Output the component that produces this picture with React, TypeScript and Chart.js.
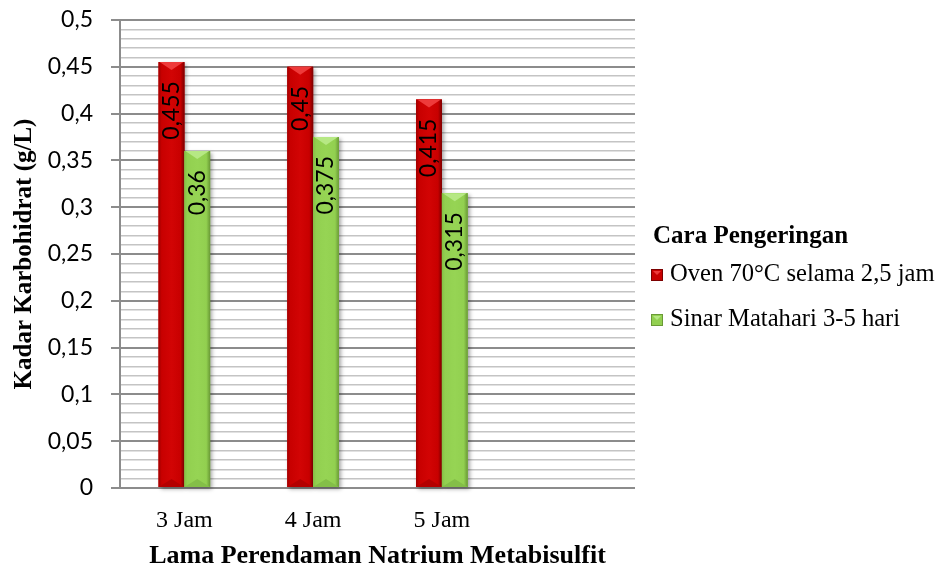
import React, { useEffect, useRef } from 'react';
import { Chart, registerables } from 'chart.js';

Chart.register(...registerables);

// ---- data ----
const categories = ['3 Jam', '4 Jam', '5 Jam', ''];
const seriesNames = ['Oven 70°C selama 2,5 jam', 'Sinar Matahari 3-5 hari'];
const ovenValues = [0.455, 0.45, 0.415, null];
const sinarValues = [0.36, 0.375, 0.315, null];
const legendTitle = 'Cara Pengeringan';
const yTitle = 'Kadar Karbohidrat (g/L)';
const xTitle = 'Lama Perendaman Natrium Metabisulfit';
const yMin = 0;
const yMax = 0.5;
const yMinorStep = 0.01;
const yMajorEvery = 5;

const SERIF = '"Liberation Serif", "Times New Roman", serif';
const SANS = 'Lato, "Open Sans", sans-serif';

const fmt = (v: number) => String(Math.round(v * 1000) / 1000).replace('.', ',');
const isMajor = (v: number) => Math.round(v / yMinorStep) % yMajorEvery === 0;

const palettes = [
  { base: '#c80000', edgeL: '#a00000', mid: '#d20404', edgeR: '#7c0000', top: '#ee3a3a', bottom: '#b40000' },
  { base: '#92d050', edgeL: '#84c045', mid: '#96d454', edgeR: '#6a9a36', top: '#b6e884', bottom: '#84bf48' },
];

const barStylePlugin = {
  id: 'barStyle',
  afterDatasetsDraw(chart: any) {
    const ctx = chart.ctx;
    chart.data.datasets.forEach((ds: any, di: number) => {
      const meta = chart.getDatasetMeta(di);
      const pal = palettes[di];
      meta.data.forEach((bar: any, i: number) => {
        if (ds.data[i] == null) return;
        const { x, y, base, width } = bar.getProps(['x', 'y', 'base', 'width'], true);
        const l = x - width / 2;
        const r = x + width / 2;
        const h = base - y;
        ctx.save();
        ctx.shadowColor = 'rgba(0,0,0,0.35)';
        ctx.shadowBlur = 4;
        ctx.shadowOffsetX = 2;
        ctx.shadowOffsetY = 2;
        ctx.fillStyle = pal.base;
        ctx.fillRect(l, y, width, h);
        ctx.restore();
        ctx.save();
        const g = ctx.createLinearGradient(l, 0, r, 0);
        g.addColorStop(0, pal.edgeL);
        g.addColorStop(0.12, pal.base);
        g.addColorStop(0.5, pal.mid);
        g.addColorStop(0.85, pal.base);
        g.addColorStop(1, pal.edgeR);
        ctx.fillStyle = g;
        ctx.fillRect(l, y, width, h);
        const bh = Math.min(8, h / 2);
        ctx.fillStyle = pal.top;
        ctx.beginPath();
        ctx.moveTo(l + 1, y);
        ctx.lineTo(r - 1, y);
        ctx.lineTo(x, y + bh);
        ctx.closePath();
        ctx.fill();
        ctx.fillStyle = pal.bottom;
        ctx.beginPath();
        ctx.moveTo(l, base);
        ctx.lineTo(r, base);
        ctx.lineTo(x, base - bh);
        ctx.closePath();
        ctx.fill();
        ctx.restore();
      });
    });
    chart.data.datasets.forEach((ds: any, di: number) => {
      const meta = chart.getDatasetMeta(di);
      meta.data.forEach((bar: any, i: number) => {
        const v = ds.data[i];
        if (v == null) return;
        const { x, y } = bar.getProps(['x', 'y'], true);
        ctx.save();
        ctx.translate(x, y + 19);
        ctx.rotate(-Math.PI / 2);
        ctx.font = `23px ${SANS}`;
        ctx.fillStyle = '#000';
        ctx.textAlign = 'right';
        ctx.textBaseline = 'middle';
        ctx.fillText(fmt(v), 0, 0);
        ctx.restore();
      });
    });
  },
};

const legendPlugin = {
  id: 'customLegend',
  afterDraw(chart: any) {
    const ctx = chart.ctx;
    const area = chart.chartArea;
    const lx = area.right + 16;
    ctx.save();
    ctx.fillStyle = '#000';
    ctx.textBaseline = 'middle';
    ctx.textAlign = 'left';
    ctx.font = `bold 25px ${SERIF}`;
    ctx.fillText(legendTitle, lx + 2, 237);
    chart.data.datasets.forEach((ds: any, di: number) => {
      const cy = 275 + di * 45;
      const pal = palettes[di];
      const s = 12;
      const bx = lx;
      const by = cy - s / 2;
      ctx.fillStyle = pal.base;
      ctx.fillRect(bx, by, s, s);
      ctx.fillStyle = pal.top;
      ctx.beginPath();
      ctx.moveTo(bx + 2, by + 2);
      ctx.lineTo(bx + s - 2, by + 2);
      ctx.lineTo(bx + s / 2, by + s / 2);
      ctx.closePath();
      ctx.fill();
      ctx.strokeStyle = pal.edgeR;
      ctx.lineWidth = 1;
      ctx.strokeRect(bx + 0.5, by + 0.5, s - 1, s - 1);
      ctx.fillStyle = '#000';
      ctx.font = `24.6px ${SERIF}`;
      ctx.fillText(ds.label, bx + 19, cy);
    });
    ctx.restore();
  },
};

export default function App() {
  const ref = useRef<HTMLCanvasElement | null>(null);
  useEffect(() => {
    if (!ref.current) return;
    const chart = new Chart(ref.current, {
      type: 'bar',
      data: {
        labels: categories,
        datasets: [
          { label: seriesNames[0], data: ovenValues, backgroundColor: palettes[0].base, borderWidth: 0, categoryPercentage: 0.4, barPercentage: 1 },
          { label: seriesNames[1], data: sinarValues, backgroundColor: palettes[1].base, borderWidth: 0, categoryPercentage: 0.4, barPercentage: 1 },
        ],
      },
      options: {
        responsive: false,
        animation: false,
        devicePixelRatio: 1,
        layout: { padding: { top: 20, right: 316, left: 0, bottom: 0 } },
        plugins: { legend: { display: false }, tooltip: { enabled: false } },
        scales: {
          x: {
            grid: { display: false, drawTicks: false },
            border: { display: false },
            ticks: { font: { family: SERIF, size: 24 }, color: '#000', padding: 18 },
            title: {
              display: true,
              text: xTitle,
              font: { family: SERIF, size: 26, weight: 'bold', lineHeight: 1.0 },
              color: '#000',
              padding: { top: 0, bottom: 0 },
            },
            afterFit: (s: any) => {
              s.height = 81;
              s.paddingLeft = 0;
              s.paddingRight = 0;
            },
          },
          y: {
            min: yMin,
            max: yMax,
            ticks: {
              stepSize: yMinorStep,
              autoSkip: false,
              padding: 18,
              font: { family: SANS, size: 23 },
              color: '#000',
              callback: (v: any) => (isMajor(Number(v)) ? fmt(Number(v)) : ''),
            },
            grid: {
              color: (c: any) => (isMajor(c.tick.value) ? '#8c8c8c' : '#c4c4c4'),
              lineWidth: (c: any) => (isMajor(c.tick.value) ? 2 : 1.5),
              tickLength: 9,
              tickColor: (c: any) => (isMajor(c.tick.value) ? '#8c8c8c' : 'rgba(0,0,0,0)'),
              tickWidth: 2,
            },
            border: { color: '#8c8c8c', width: 2 },
            title: {
              display: true,
              text: yTitle,
              font: { family: SERIF, size: 25, weight: 'bold', lineHeight: 1.2 },
              color: '#000',
              padding: { top: 10, bottom: 0 },
            },
            afterFit: (s: any) => {
              s.width = 120;
              s.paddingTop = 0;
              s.paddingBottom = 0;
            },
          },
        },
      } as any,
      plugins: [barStylePlugin, legendPlugin],
    });
    return () => chart.destroy();
  }, []);
  return (
    <div style={{ position: 'fixed', left: 0, top: 0, width: 951, height: 569, background: '#fff' }}>
      <canvas ref={ref} width={951} height={569} style={{ display: 'block' }} />
    </div>
  );
}
